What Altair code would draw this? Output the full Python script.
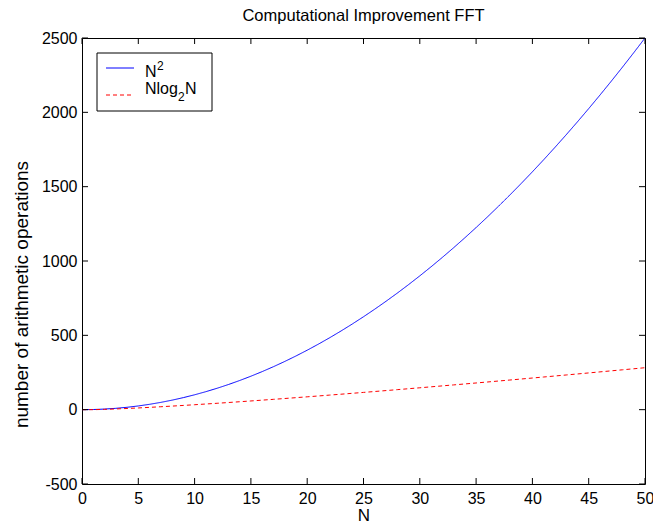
import altair as alt
import pandas as pd

# Problem size N and operation counts for direct DFT vs. FFT
n_values = [0, 1, 2, 3, 4, 5, 6, 7, 8, 9, 10, 11, 12, 13, 14, 15, 16, 17, 18, 19, 20,
            21, 22, 23, 24, 25, 26, 27, 28, 29, 30, 31, 32, 33, 34, 35, 36, 37, 38, 39, 40,
            41, 42, 43, 44, 45, 46, 47, 48, 49, 50]
n_squared = [0, 1, 4, 9, 16, 25, 36, 49, 64, 81, 100, 121, 144, 169, 196, 225, 256, 289,
             324, 361, 400, 441, 484, 529, 576, 625, 676, 729, 784, 841, 900, 961, 1024,
             1089, 1156, 1225, 1296, 1369, 1444, 1521, 1600, 1681, 1764, 1849, 1936, 2025,
             2116, 2209, 2304, 2401, 2500]
n_log2_n = [0, 0, 2, 4.8, 8, 11.6, 15.5, 19.7, 24, 28.5, 33.2, 38.1, 43.0, 48.1, 53.3,
            58.6, 64, 69.5, 75.1, 80.7, 86.4, 92.2, 98.1, 104.0, 110.0, 116.1, 122.2, 128.4,
            134.6, 140.9, 147.2, 153.6, 160, 166.5, 173.0, 179.5, 186.1, 192.8, 199.4, 206.1,
            212.9, 219.7, 226.5, 233.3, 240.2, 247.1, 254.1, 261.1, 268.1, 275.1, 282.2]
series_names = ["N^2", "Nlog2N"]

x_ticks = [0, 5, 10, 15, 20, 25, 30, 35, 40, 45, 50]
y_ticks = [-500, 0, 500, 1000, 1500, 2000, 2500]

W, H = 563, 446
FONT = "Liberation Sans"
BLUE, RED = "#0000FF", "#FF0000"

df = pd.concat([
    pd.DataFrame({"N": n_values, "ops": n_squared, "series": series_names[0]}),
    pd.DataFrame({"N": n_values, "ops": n_log2_n, "series": series_names[1]}),
])

x_scale = alt.Scale(domain=[0, 50], nice=False, zero=False)
y_scale = alt.Scale(domain=[-500, 2500], nice=False, zero=False)

# plain integer labels, ASCII hyphen for negatives, no thousands separator
PLAIN = "'' + datum.value"

x_axis = alt.Axis(values=x_ticks, ticks=False, tickSize=0, domain=False, grid=False,
                  labelExpr=PLAIN,
                  labelFont=FONT, labelFontSize=16, labelColor="black", labelPadding=6,
                  labelFlush=False, labelOverlap=False,
                  title="N", titleFont=FONT, titleFontSize=17, titleFontWeight="normal",
                  titleColor="black", titleBaseline="top", titleY=23)
y_axis = alt.Axis(values=y_ticks, ticks=False, tickSize=0, domain=False, grid=False,
                  labelExpr=PLAIN,
                  labelFont=FONT, labelFontSize=16, labelColor="black", labelPadding=5,
                  labelFlush=False, labelOverlap=False,
                  title="number of arithmetic operations", titleFont=FONT, titleFontSize=19,
                  titleFontWeight="normal", titleColor="black", titleAngle=270,
                  titleAlign="center", titleBaseline="middle", titleX=-61, titleY=256)

X = alt.X("N:Q", scale=x_scale, axis=x_axis)
Y = alt.Y("ops:Q", scale=y_scale, axis=y_axis)

lines = alt.Chart(df).mark_line(strokeWidth=1).encode(
    x=X, y=Y,
    color=alt.Color("series:N", scale=alt.Scale(domain=series_names, range=[BLUE, RED]),
                    legend=None),
    strokeDash=alt.StrokeDash("series:N",
                              scale=alt.Scale(domain=series_names, range=[[1, 0], [4, 3]]),
                              legend=None),
)

# Inward-pointing tick marks on all four sides of the frame
xt = pd.DataFrame({"N": x_ticks})
yt = pd.DataFrame({"ops": y_ticks})
TICK = 6
ticks_bottom = alt.Chart(xt).mark_rule(color="black", strokeWidth=1).encode(
    x=X, y=alt.value(H), y2=alt.value(H - TICK))
ticks_top = alt.Chart(xt).mark_rule(color="black", strokeWidth=1).encode(
    x=X, y=alt.value(0), y2=alt.value(TICK))
ticks_left = alt.Chart(yt).mark_rule(color="black", strokeWidth=1).encode(
    y=Y, x=alt.value(0), x2=alt.value(TICK))
ticks_right = alt.Chart(yt).mark_rule(color="black", strokeWidth=1).encode(
    y=Y, x=alt.value(W), x2=alt.value(W - TICK))

one = alt.Data(values=[{}])


def label(txt, x, y, size=15, align="left"):
    return alt.Chart(one).mark_text(text=txt, align=align, baseline="alphabetic",
                                    font=FONT, fontSize=size, color="black").encode(
        x=alt.value(x), y=alt.value(y))


title = label("Computational Improvement FFT", W / 2, -17, 16.5, "center")

# Boxed legend in the upper-left corner
legend_box = alt.Chart(one).mark_rect(fill="white", stroke="black", strokeWidth=1).encode(
    x=alt.value(15), x2=alt.value(130), y=alt.value(15), y2=alt.value(73))
legend_blue = alt.Chart(one).mark_rule(color=BLUE, strokeWidth=1).encode(
    x=alt.value(24), x2=alt.value(52), y=alt.value(30))
legend_red = alt.Chart(one).mark_rule(color=RED, strokeWidth=1, strokeDash=[4, 3]).encode(
    x=alt.value(24), x2=alt.value(52), y=alt.value(57))
legend_texts = [
    label("N", 63, 39, 16),
    label("2", 75, 32, 12),
    label("Nlog", 63, 56, 16),
    label("2", 96, 63, 12),
    label("N", 103, 56, 16),
]

chart = alt.layer(
    lines, ticks_bottom, ticks_top, ticks_left, ticks_right,
    legend_box, legend_blue, legend_red, *legend_texts, title,
).properties(
    width=W, height=H,
    autosize=alt.AutoSizeParams(type="none"),
    padding={"left": 82, "top": 38, "right": 8, "bottom": 42},
    background="white",
).configure_view(stroke="black", strokeWidth=1)

chart.save("out.html", embed_options={"renderer": "svg", "actions": False})
